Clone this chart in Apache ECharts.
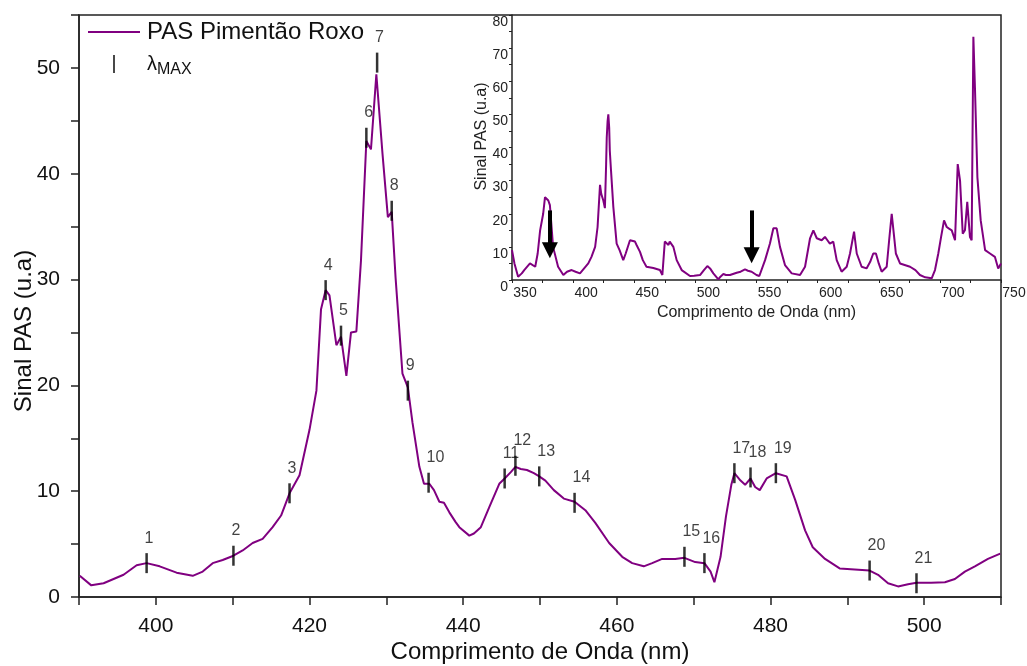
<!DOCTYPE html>
<html>
<head>
<meta charset="utf-8">
<script src="https://cdn.jsdelivr.net/npm/echarts@6/dist/echarts.min.js"></script>
<style>
  html, body { margin: 0; padding: 0; background: #fff; }
  #main { width: 1027px; height: 666px; }
</style>
</head>
<body>
<div id="main"></div>
<script>
// espectro principal (390-510 nm)
const wl = [390.1, 391.6, 393.2, 395.8, 397.5, 398.8, 400.5, 402.7, 404.8, 406.1, 407.4, 408.7, 410.1, 411.3, 412.6, 413.9,
  415.2, 416.3, 417.4, 418.7, 420.0, 420.9, 421.5, 422.1, 422.6, 423.5, 424.1, 424.8, 425.4, 426.1, 426.7, 427.4, 428.0,
  428.7, 429.5, 430.2, 430.7, 431.2, 432.1, 432.8, 433.4, 434.3, 434.9, 435.6, 436.2, 436.9, 437.5, 438.2, 439.0, 439.5,
  440.8, 441.4, 442.3, 443.4, 444.7, 445.4, 446.2, 446.8, 447.5, 448.3, 449.2, 449.9, 450.7, 451.8, 453.1, 454.5, 455.9,
  457.2, 459.0, 460.7, 462.0, 463.5, 464.6, 465.9, 467.6, 468.8, 470.2, 471.4, 472.2, 472.7, 473.5, 474.2, 474.9, 475.3,
  476.1, 476.7, 477.4, 478.0, 478.6, 479.5, 480.7, 482.1, 483.2, 484.5, 485.5, 487.1, 489.0, 492.9, 494.0, 495.3, 496.6,
  497.9, 499.0, 500.9, 502.7, 504.0, 505.3, 506.6, 508.3, 509.9]
const pas = [2.0, 1.1, 1.3, 2.1, 3.0, 3.2, 2.9, 2.3, 2.0, 2.4, 3.2, 3.5, 3.9, 4.4, 5.1, 5.5,
  6.6, 7.7, 9.8, 11.5, 15.8, 19.5, 27.2, 29.0, 28.5, 23.8, 24.6, 20.9, 25.0, 25.1, 31.8, 43.1, 42.3,
  49.4, 41.9, 35.9, 36.4, 30.2, 21.1, 19.8, 16.5, 12.3, 10.7, 10.7, 10.1, 9.0, 8.9, 8.0, 7.1, 6.6,
  5.8, 6.0, 6.6, 8.5, 10.7, 11.2, 11.8, 12.3, 12.1, 12.0, 11.7, 11.4, 11.0, 10.1, 9.3, 9.0, 8.2,
  7.0, 5.1, 3.8, 3.2, 2.9, 3.2, 3.6, 3.6, 3.7, 3.3, 3.2, 2.4, 1.4, 3.8, 7.6, 10.6, 11.7,
  11.0, 10.6, 11.2, 10.4, 10.1, 11.2, 11.7, 11.4, 9.2, 6.3, 4.7, 3.6, 2.7, 2.5, 2.1, 1.3, 1.0,
  1.2, 1.35, 1.35, 1.4, 1.7, 2.4, 2.9, 3.6, 4.1]

// lambda max (1..21)
const peakWl = [398.8, 410.1, 417.4, 422.1, 424.1, 427.4, 428.8, 430.7, 432.8, 435.5, 445.4,
  446.8, 449.9, 454.5, 468.8, 471.4, 475.3, 477.4, 480.7, 492.9, 499.0]
const peakPas = [3.2, 3.9, 9.8, 29.0, 24.7, 43.4, 50.5, 36.5, 19.5, 10.8, 11.2,
  12.4, 11.4, 8.9, 3.8, 3.2, 11.7, 11.3, 11.7, 2.5, 1.3]

// espectro completo (inset, 350-750 nm)
const wlFull = [350.0, 352, 355.0, 358, 360, 364.7, 369, 371, 373, 375.5, 377, 378.5, 379.7, 381, 383.6, 387.7, 392, 395,
  398.8, 402, 405.6, 409, 412.4, 415, 418, 420, 422, 423, 424.7, 426, 427, 427.5, 428.2, 428.8, 429.5, 430, 431,
  432.9, 435.6, 438, 441, 443, 446.5, 448, 450.6, 452, 454.7, 457, 460, 465.6, 471, 473, 475, 476.5, 478, 479,
  480.6, 482, 484.7, 488.8, 495.6, 499, 503.8, 507, 509.8, 512, 514.7, 518.8, 520.5, 522.9, 525, 528.3, 533.8,
  537, 540.6, 543, 546, 550, 552.3, 557, 561, 563.8, 566.5, 569.2, 573.3, 578.8, 585.6, 589.7, 593.8, 596.5,
  599.3, 603.3, 606, 608, 610, 612.8, 615.6, 619.6, 623.8, 626.5, 629.8, 632, 636, 640, 643, 645.5, 647.7, 650,
  652.4, 656.5, 658.5, 660.6, 662.3, 664, 667.4, 675.6, 680, 683.7, 688, 693.3, 696, 698.7, 701, 703.4, 705.6,
  707.5, 709.7, 712.4, 714.6, 716.5, 718.7, 720.5, 722.4, 724.6, 726, 727.4, 728.7, 730.7, 733.4, 737, 741, 745,
  747.7, 750]
const pasFull = [9.0, 5, 1.0, 2, 3, 5, 4, 8, 15, 20, 25, 24.5, 24, 22.6, 10, 4, 1.5, 2.5,
  3, 2.5, 2, 3.5, 5, 7, 10, 16, 28.7, 26, 24, 21.7, 35, 43, 48, 50, 46, 39, 33,
  22, 11, 9, 6, 8, 12, 12.5, 11.6, 10.5, 8.5, 6, 4, 3.6, 3, 1.5, 11.6, 11, 10.6, 11.6,
  11.6, 10, 6, 3, 1.2, 1.3, 1.5, 3, 4.2, 3.5, 2, 0.2, 1, 1.8, 1.5, 1.5, 2.2,
  2.5, 3.2, 2.8, 2.5, 1.5, 1.2, 6, 11, 15.6, 15.6, 10, 4.5, 2, 1.5, 4, 12.6, 15,
  12.6, 12, 13, 12, 11, 11.6, 6, 2.5, 4, 8, 14.6, 8, 4, 3.5, 5.5, 8, 8, 5,
  2.5, 4, 12, 20, 14, 8, 5, 4, 3, 1.5, 0.8, 0.5, 3, 8, 13, 18, 16,
  15.5, 15, 12, 35, 30, 14, 15, 23.6, 13, 12, 73.4, 58, 31, 18, 9, 8, 7,
  3.5, 5]

// setas do inset (inicio e fim da haste, a ponta fica um pouco abaixo)
const arrowWl = [381, 546]
const arrowTop = [21, 21]
const arrowEnd = [9.0, 7.5]

const font = 'Arial, "Liberation Sans", sans-serif'
const purple = '#800080'
const axisColor = '#222'

const chart = echarts.init(document.getElementById('main'))

const option = {
  animation: false,
  backgroundColor: '#fff',
  textStyle: { fontFamily: font },
  legend: {
    data: [
      { name: 'PAS Pimentão Roxo', icon: 'path://M0,0h26v1h-26z' },
      { name: 'λMAX', icon: 'path://M0,0h1v10h-1z' }
    ],
    orient: 'vertical',
    left: 88,
    top: 20,
    padding: 0,
    itemWidth: 52,
    itemHeight: 18,
    itemGap: 10,
    selectedMode: false,
    formatter(name) {
      return name === 'λMAX' ? '{l|λ}{s|MAX}' : name
    },
    textStyle: {
      fontSize: 24,
      color: '#111',
      padding: [0, 0, 0, 2],
      rich: {
        l: { fontSize: 20, color: '#111' },
        s: { fontSize: 16, color: '#111', padding: [12, 0, 0, 0] }
      }
    }
  },
  grid: [
    { left: 79, right: 26, top: 15, bottom: 69, outerBoundsMode: 'none', show: true, borderColor: axisColor, borderWidth: 1.5, backgroundColor: 'transparent' },
    { left: 512, right: 26, top: 15, bottom: 386, outerBoundsMode: 'none' }
  ],
  xAxis: [
    {
      gridIndex: 0,
      type: 'value',
      min: 390,
      max: 510,
      interval: 10,
      name: 'Comprimento de Onda (nm)',
      nameLocation: 'middle',
      nameGap: 43,
      nameMoveOverlap: false,
      nameTextStyle: { fontSize: 24, color: '#111' },
      axisLine: { lineStyle: { color: axisColor, width: 1.5 } },
      axisTick: { length: 8, lineStyle: { color: axisColor, width: 1.5 } },
      axisLabel: {
        fontSize: 21,
        color: '#111',
        margin: 19,
        formatter: v => (v % 20 === 0 ? String(v) : '')
      },
      splitLine: { show: false }
    },
    {
      gridIndex: 1,
      type: 'value',
      min: 350,
      max: 750,
      interval: 25,
      name: 'Comprimento de Onda (nm)',
      nameLocation: 'middle',
      nameGap: 25,
      nameMoveOverlap: false,
      nameTextStyle: { fontSize: 16, color: '#222' },
      axisLine: { lineStyle: { color: axisColor, width: 1.5 } },
      axisTick: { length: 3, lineStyle: { color: axisColor } },
      axisLabel: {
        fontSize: 14,
        color: '#222',
        margin: 6,
        padding: [0, 0, 0, 26],
        showMaxLabel: true,
        formatter: v => (v % 50 === 0 ? String(v) : '')
      },
      splitLine: { show: false }
    }
  ],
  yAxis: [
    {
      gridIndex: 0,
      type: 'value',
      min: 0,
      max: 55,
      interval: 5,
      name: 'Sinal PAS (u.a)',
      nameLocation: 'middle',
      nameGap: 43,
      nameMoveOverlap: false,
      nameTextStyle: { fontSize: 24, color: '#111', padding: [0, 50, 0, 0] },
      axisLine: { lineStyle: { color: axisColor, width: 1.5 } },
      axisTick: { length: 8, lineStyle: { color: axisColor, width: 1.5 } },
      axisLabel: {
        fontSize: 21,
        color: '#111',
        margin: 19,
        formatter: v => (v % 10 === 0 ? String(v) : '')
      },
      splitLine: { show: false }
    },
    {
      gridIndex: 1,
      type: 'value',
      min: 0,
      max: 80,
      interval: 5,
      name: 'Sinal PAS (u.a)',
      nameLocation: 'middle',
      nameGap: 22,
      nameMoveOverlap: false,
      nameTextStyle: { fontSize: 16, color: '#222', padding: [0, 0, 0, 22] },
      axisLine: { lineStyle: { color: axisColor, width: 1.5 } },
      axisTick: { length: 3, lineStyle: { color: axisColor } },
      axisLabel: {
        fontSize: 14,
        color: '#222',
        margin: 4,
        verticalAlign: 'top',
        formatter: v => (v % 10 === 0 ? String(v) : '')
      },
      splitLine: { show: false }
    }
  ],
  series: [
    {
      name: 'PAS Pimentão Roxo',
      type: 'line',
      xAxisIndex: 0,
      yAxisIndex: 0,
      data: wl.map((x, i) => [x, pas[i]]),
      symbol: 'none',
      color: purple,
      lineStyle: { color: purple, width: 2 },
      z: 2
    },
    {
      name: 'λMAX',
      type: 'scatter',
      xAxisIndex: 0,
      yAxisIndex: 0,
      data: peakWl.map((x, i) => [x, peakPas[i]]),
      symbol: 'rect',
      symbolSize: [2.5, 20],
      color: '#000',
      itemStyle: { color: '#000' },
      label: {
        show: true,
        position: 'top',
        distance: 7,
        align: 'left',
        offset: [-2, 0],
        fontSize: 16,
        color: '#111',
        formatter: p => String(p.dataIndex + 1)
      },
      z: 3
    },
    {
      name: 'inset',
      type: 'line',
      xAxisIndex: 1,
      yAxisIndex: 1,
      data: wlFull.map((x, i) => [x, pasFull[i]]),
      symbol: 'none',
      lineStyle: { color: purple, width: 2 },
      color: purple,
      markLine: {
        silent: true,
        symbol: ['none', 'triangle'],
        symbolSize: [16, 16],
        label: { show: false },
        lineStyle: { color: '#000', width: 4, type: 'solid' },
        data: arrowWl.map((x, i) => [
          { coord: [x, arrowTop[i]] },
          { coord: [x, arrowEnd[i]] }
        ])
      }
    }
  ]
}

chart.setOption(option)
</script>
</body>
</html>
